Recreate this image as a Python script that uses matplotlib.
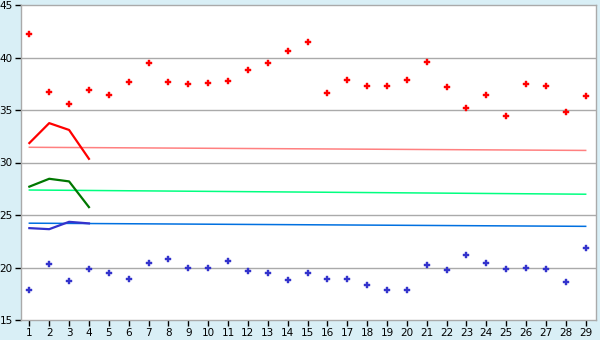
import matplotlib
matplotlib.use("Agg")
import matplotlib.pyplot as plt

days = list(range(1, 30))
red_points = [42.2, 36.7, 35.55, 36.9, 36.4, 37.65, 39.45, 37.65, 37.45, 37.55,
              37.75, 38.85, 39.45, 40.6, 41.45, 36.6, 37.9, 37.25, 37.25, 37.85,
              39.55, 37.15, 35.15, 36.4, 34.4, 37.45, 37.25, 34.8, 36.3]
blue_points = [17.9, 20.3, 18.7, 19.9, 19.45, 18.9, 20.4, 20.8, 20.0, 20.0,
               20.6, 19.65, 19.45, 18.8, 19.45, 18.9, 18.9, 18.3, 17.85, 17.85,
               20.2, 19.75, 21.15, 20.4, 19.9, 20.0, 19.85, 18.6, 21.9]

short_days = [1, 2, 3, 4]
red_line = [31.85, 33.75, 33.1, 30.35]
green_line = [27.7, 28.45, 28.2, 25.75]
blue_line = [23.75, 23.65, 24.35, 24.2]

trend_days = [1, 29]
red_trend = [31.45, 31.15]
green_trend = [27.38, 26.98]
blue_trend = [24.22, 23.92]

yticks = [15, 20, 25, 30, 35, 40, 45]

bg = "#d9eff6"
fig = plt.figure(figsize=(6, 3.4), dpi=100, facecolor=bg)
ax = fig.add_axes([21/600, 20/340, 575/600, 315/340])
ax.set_facecolor("white")

for y in yticks[1:-1]:
    ax.axhline(y, color="#aaaaaa", lw=1, zorder=1)

ax.plot(trend_days, red_trend, color="#ff8080", lw=1.1, zorder=2)
ax.plot(trend_days, green_trend, color="#00ff80", lw=1.1, zorder=2)
ax.plot(trend_days, blue_trend, color="#0070e0", lw=1.1, zorder=2)

ax.plot(short_days, red_line, color="#ff0000", lw=1.6, zorder=3)
ax.plot(short_days, green_line, color="#007700", lw=1.6, zorder=3)
ax.plot(short_days, blue_line, color="#3333cc", lw=1.6, zorder=3)

ax.plot(days, red_points, linestyle="none", marker="P", ms=4.8, color="#ff0000",
        mec="#ff0000", mew=0.3, zorder=4)
ax.plot(days, blue_points, linestyle="none", marker="P", ms=4.8, color="#3333cc",
        mec="#3333cc", mew=0.3, zorder=4)

ax.set_xlim(0.58, 29.52)
ax.set_ylim(15, 45)
ax.set_xticks(days)
ax.set_xticklabels([str(d) for d in days])
ax.set_yticks(yticks)
ax.set_yticklabels([str(y) for y in yticks])
ax.tick_params(axis="both", direction="out", length=4, width=1, color="black",
               labelsize=7.5, labelcolor="black", pad=2)
for s in ax.spines.values():
    s.set_color("#aaaaaa")
    s.set_linewidth(1.0)

fig.savefig("out.png", dpi=100, facecolor=bg)
